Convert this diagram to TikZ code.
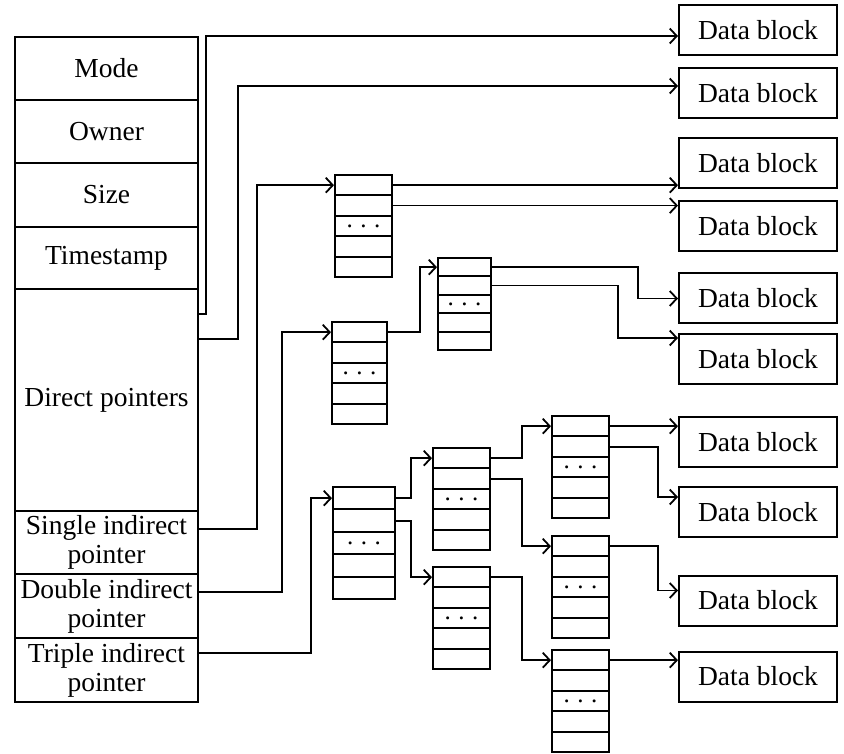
\documentclass[tikz,border=0pt]{standalone}
\usepackage{fontspec}
\setmainfont{Liberation Serif}
\usetikzlibrary{arrows.meta}

\begin{document}
\begin{tikzpicture}[x=1pt, y=-1pt,
    inode/.style={draw, line width=2pt, minimum width=183pt, align=center, inner sep=0pt, font=\fontsize{27.5}{29}\selectfont},
    cell/.style={draw, line width=2pt, inner sep=0pt, font=\fontsize{25}{28}\selectfont},
    datablk/.style={draw, line width=2pt, minimum width=158pt, minimum height=50pt, font=\fontsize{27.5}{29}\selectfont},
    ptr/.style={line width=1.8pt, -{Straight Barb[length=7pt, width=15pt]}}]
    \useasboundingbox (0,0) rectangle (844,754);

    % Inode table on the left
    \foreach \n/\t/\y/\h in {mode/Mode/37/63, owner/Owner/100/63, size/Size/163/64, time/Timestamp/227/62,
        dir/Direct pointers/289/222, single/{Single indirect\\pointer}/511/63,
        double/{Double indirect\\pointer}/574/64, triple/{Triple indirect\\pointer}/638/64} {
        \node[inode, minimum height=\h*1pt] (\n) at (106.5, \y+\h/2) {\t};
    }

    % Pointer blocks, five entries each
    \foreach \b/\x/\y/\h/\w in {A/335/175/20.4/57, B/332/322/20.4/55, C/438/258/18.4/53,
        D/333/487/22.4/62, E/433/448/20.4/57, F/433/567/20.4/57,
        G/552/416/20.4/57, H/552/536/20.4/57, I/552/650/20.4/57} {
        \foreach \row in {1,...,5} {
            \node[cell, minimum width=\w*1pt, minimum height=\h*1pt] (\b\row) at (\x+\w/2, \y+\h*\row-\h/2)
                {\ifnum\row=3 .\hspace{0.3em}.\hspace{0.3em}.\fi};
        }
    }

    % Data blocks on the right
    \foreach \i/\y in {1/30, 2/93, 3/163, 4/226.5, 5/298.5, 6/359, 7/442, 8/512, 9/600.5, 10/676.5} {
        \node[datablk] (db\i) at (758,\y) {Data block};
    }

    % Direct pointers
    \draw[ptr] ([yshift=-26pt]dir.north east) -- ++(7,0) |- (mode.north -| db1.west);
    \draw[ptr] ([yshift=-51pt]dir.north east) -- ++(39,0) |- ([yshift=-19pt]db2.north west);

    % Single indirect
    \draw[ptr] ([yshift=-19pt]single.north east) -- ++(58,0) |- (A1.west);
    \draw[ptr] (A1.east) -- (A1.east -| db3.west);
    \draw[ptr] (A2.east) -- (A2.east -| db4.west);

    % Double indirect
    \draw[ptr] ([yshift=-19pt]double.north east) -- ++(83,0) |- (B1.west);
    \draw[ptr] (B1.east) -- ++(32,0) |- (C1.west);
    \draw[ptr] (C1.east) -- ++(146,0) |- (db5.west);
    \draw[ptr] (C2.east) -- ++(126,0) |- ([yshift=-5pt]db6.north west);

    % Triple indirect
    \draw[ptr] ([yshift=-16pt]triple.north east) -- ++(112,0) |- (D1.west);
    \draw[ptr] (D1.east) -- ++(15,0) |- (E1.west);
    \draw[ptr] (D2.east) -- ++(15,0) |- (F1.west);
    \draw[ptr] (E1.east) -- ++(31,0) |- (G1.west);
    \draw[ptr] (E2.east) -- ++(31,0) |- (H1.west);
    \draw[ptr] (F1.east) -- ++(31,0) |- (I1.west);
    \draw[ptr] (G1.east) -- (G1.east -| db7.west);
    \draw[ptr] (G2.east) -- ++(48,0) |- ([yshift=-11pt]db8.north west);
    \draw[ptr] (H1.east) -- ++(48,0) |- ([yshift=-16pt]db9.north west);
    \draw[ptr] (I1.east) -- (I1.east -| db10.west);
\end{tikzpicture}
\end{document}
